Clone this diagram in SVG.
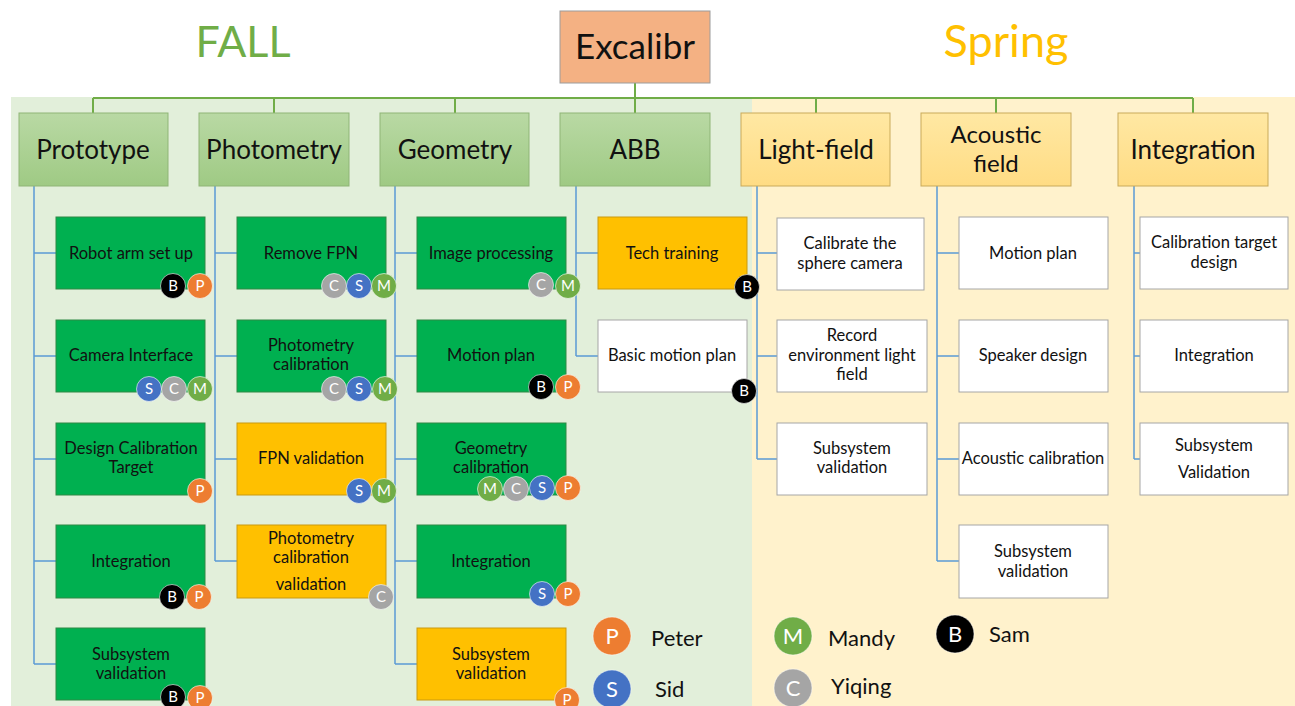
<svg xmlns="http://www.w3.org/2000/svg" width="1295" height="706" viewBox="0 0 1295 706">
  <defs>
    <linearGradient id="hdrFall" x1="0" y1="0" x2="0" y2="1">
      <stop offset="0" stop-color="#b9d9a4"/>
      <stop offset="1" stop-color="#9fca84"/>
    </linearGradient>
    <linearGradient id="hdrSpring" x1="0" y1="0" x2="0" y2="1">
      <stop offset="0" stop-color="#ffe8a3"/>
      <stop offset="1" stop-color="#ffdc84"/>
    </linearGradient>
  </defs>
  <style>
    text { font-family: Lato, "Liberation Sans", sans-serif; text-anchor: middle; fill: #111111; }
    .season { font-size: 43px; }
    .root { fill: #f4b183; stroke: #9c9c9c; stroke-width: 1; }
    .rootTxt { font-size: 35px; }
    .hdrF { fill: url(#hdrFall); stroke: #8fb577; stroke-width: 1; }
    .hdrS { fill: url(#hdrSpring); stroke: #c9aa5a; stroke-width: 1; }
    .hdrTxt { font-size: 26px; }
    .hdrTxt2 { font-size: 24px; }
    .tGreen { fill: #00b050; stroke: #2f8a45; stroke-width: 1; }
    .tOrange { fill: #ffc000; stroke: #c99a10; stroke-width: 1; }
    .tWhite { fill: #ffffff; stroke: #a6a6a6; stroke-width: 1; }
    .tTxt { font-size: 16.5px; }
    .trunk { fill: none; stroke: #70ad47; stroke-width: 2; }
    .branch { fill: none; stroke: #5b9bd5; stroke-width: 1.5; }
    .bd circle { stroke: #ffffff; stroke-opacity: 0.6; stroke-width: 1; }
    .bd text { fill: #ffffff; font-size: 15px; }
    .lg circle { stroke: #ffffff; stroke-opacity: 0.5; stroke-width: 1; }
    .lg text.ini { fill: #ffffff; font-size: 22px; }
    .lg text.name { font-size: 22px; text-anchor: start; }
    .cP { fill: #ed7d31; }
    .cS { fill: #4472c4; }
    .cC { fill: #a5a5a5; }
    .cM { fill: #70ad47; }
    .cB { fill: #000000; }
  </style>

  <!-- season panels -->
  <rect x="0" y="0" width="1295" height="706" fill="#ffffff"/>
  <rect x="11" y="97" width="741" height="609" fill="#e2efda"/>
  <rect x="752" y="97" width="543" height="609" fill="#fff2cc"/>

  <text class="season" x="243" y="57" style="fill:#70ad47">FALL</text>
  <text class="season" x="1006" y="57" style="fill:#ffc000;font-size:45px">Spring</text>

  <!-- connectors -->
  <g id="connectors">
    <path class="trunk" d="M635 83V98M93 98H1193M93 98V113M274 98V113M455 98V113M635 98V113M816 98V113M996 98V113M1193 98V113"/>
    <!-- Prototype -->
    <path class="branch" d="M34 186V664M34 253H56M34 356H56M34 459H56M34 561H56M34 664H56"/>
    <!-- Photometry -->
    <path class="branch" d="M215 186V561M215 253H237M215 356H237M215 459H237M215 561H237"/>
    <!-- Geometry -->
    <path class="branch" d="M395 186V664M395 253H417M395 356H417M395 459H417M395 561H417M395 664H417"/>
    <!-- ABB -->
    <path class="branch" d="M576 186V356M576 253H598M576 356H598"/>
    <!-- Light-field -->
    <path class="branch" d="M757 186V459M757 253H777M757 356H777M757 459H777"/>
    <!-- Acoustic field -->
    <path class="branch" d="M937 186V561M937 253H959M937 356H959M937 459H959M937 561H959"/>
    <!-- Integration -->
    <path class="branch" d="M1134 186V459M1134 253H1140M1134 356H1140M1134 459H1140"/>
  </g>

  <!-- root -->
  <g id="excalibr">
    <rect class="root" x="560" y="11" width="150" height="72"/>
    <text class="rootTxt" x="635" y="59">Excalibr</text>
  </g>

  <!-- headers -->
  <g id="hdr-prototype"><rect class="hdrF" x="19" y="113" width="149" height="73"/><text class="hdrTxt" x="93" y="159">Prototype</text></g>
  <g id="hdr-photometry"><rect class="hdrF" x="199" y="113" width="150" height="73"/><text class="hdrTxt" x="274" y="159">Photometry</text></g>
  <g id="hdr-geometry"><rect class="hdrF" x="380" y="113" width="149" height="73"/><text class="hdrTxt" x="455" y="159">Geometry</text></g>
  <g id="hdr-abb"><rect class="hdrF" x="560" y="113" width="150" height="73"/><text class="hdrTxt" x="635" y="159">ABB</text></g>
  <g id="hdr-lightfield"><rect class="hdrS" x="741" y="113" width="149" height="73"/><text class="hdrTxt" x="816" y="159">Light-field</text></g>
  <g id="hdr-acoustic"><rect class="hdrS" x="921" y="113" width="150" height="73"/><text class="hdrTxt2" x="996" y="143">Acoustic</text><text class="hdrTxt2" x="996" y="172">field</text></g>
  <g id="hdr-integration"><rect class="hdrS" x="1118" y="113" width="150" height="73"/><text class="hdrTxt" x="1193" y="159">Integration</text></g>

  <!-- Prototype tasks -->
  <g id="proto-robot"><rect class="tGreen" x="56" y="217" width="149" height="72"/><text class="tTxt" x="131" y="259">Robot arm set up</text>
    <g class="bd"><circle class="cB" cx="173" cy="286" r="12.5"/><text x="173" y="291">B</text><circle class="cP" cx="200" cy="286" r="12.5"/><text x="200" y="291">P</text></g></g>
  <g id="proto-camera"><rect class="tGreen" x="56" y="320" width="149" height="72"/><text class="tTxt" x="131" y="361">Camera Interface</text>
    <g class="bd"><circle class="cS" cx="149" cy="389" r="12.5"/><text x="149" y="394">S</text><circle class="cC" cx="174" cy="389" r="12.5"/><text x="174" y="394">C</text><circle class="cM" cx="200" cy="389" r="12.5"/><text x="200" y="394">M</text></g></g>
  <g id="proto-target"><rect class="tGreen" x="56" y="423" width="149" height="72"/><text class="tTxt" x="131" y="454">Design Calibration</text><text class="tTxt" x="131" y="473">Target</text>
    <g class="bd"><circle class="cP" cx="200" cy="491" r="12.5"/><text x="200" y="496">P</text></g></g>
  <g id="proto-integration"><rect class="tGreen" x="56" y="525" width="149" height="73"/><text class="tTxt" x="131" y="567">Integration</text>
    <g class="bd"><circle class="cB" cx="172" cy="597" r="12.5"/><text x="172" y="602">B</text><circle class="cP" cx="199" cy="597" r="12.5"/><text x="199" y="602">P</text></g></g>
  <g id="proto-validation"><rect class="tGreen" x="56" y="628" width="149" height="72"/><text class="tTxt" x="131" y="660">Subsystem</text><text class="tTxt" x="131" y="679">validation</text>
    <g class="bd"><circle class="cB" cx="173" cy="697" r="12.5"/><text x="173" y="702">B</text><circle class="cP" cx="200" cy="698" r="12.5"/><text x="200" y="703">P</text></g></g>

  <!-- Photometry tasks -->
  <g id="photo-fpn"><rect class="tGreen" x="237" y="217" width="149" height="72"/><text class="tTxt" x="311" y="259">Remove FPN</text>
    <g class="bd"><circle class="cC" cx="334" cy="286" r="12.5"/><text x="334" y="291">C</text><circle class="cS" cx="359" cy="286" r="12.5"/><text x="359" y="291">S</text><circle class="cM" cx="384" cy="286" r="12.5"/><text x="384" y="291">M</text></g></g>
  <g id="photo-calib"><rect class="tGreen" x="237" y="320" width="149" height="72"/><text class="tTxt" x="311" y="351">Photometry</text><text class="tTxt" x="311" y="370">calibration</text>
    <g class="bd"><circle class="cC" cx="334" cy="389" r="12.5"/><text x="334" y="394">C</text><circle class="cS" cx="359" cy="389" r="12.5"/><text x="359" y="394">S</text><circle class="cM" cx="385" cy="389" r="12.5"/><text x="385" y="394">M</text></g></g>
  <g id="photo-fpnval"><rect class="tOrange" x="237" y="423" width="149" height="72"/><text class="tTxt" x="311" y="464">FPN validation</text>
    <g class="bd"><circle class="cS" cx="359" cy="491" r="12.5"/><text x="359" y="496">S</text><circle class="cM" cx="384" cy="491" r="12.5"/><text x="384" y="496">M</text></g></g>
  <g id="photo-calibval"><rect class="tOrange" x="237" y="525" width="149" height="73"/><text class="tTxt" x="311" y="544">Photometry</text><text class="tTxt" x="311" y="563">calibration</text><text class="tTxt" x="311" y="590">validation</text>
    <g class="bd"><circle class="cC" cx="381" cy="597" r="12.5"/><text x="381" y="602">C</text></g></g>

  <!-- Geometry tasks -->
  <g id="geo-image"><rect class="tGreen" x="417" y="217" width="149" height="72"/><text class="tTxt" x="491" y="259">Image processing</text>
    <g class="bd"><circle class="cC" cx="541" cy="285" r="12.5"/><text x="541" y="290">C</text><circle class="cM" cx="568" cy="286" r="12.5"/><text x="568" y="291">M</text></g></g>
  <g id="geo-motion"><rect class="tGreen" x="417" y="320" width="149" height="72"/><text class="tTxt" x="491" y="361">Motion plan</text>
    <g class="bd"><circle class="cB" cx="541" cy="387" r="12.5"/><text x="541" y="392">B</text><circle class="cP" cx="568" cy="387" r="12.5"/><text x="568" y="392">P</text></g></g>
  <g id="geo-calib"><rect class="tGreen" x="417" y="423" width="149" height="72"/><text class="tTxt" x="491" y="454">Geometry</text><text class="tTxt" x="491" y="473">calibration</text>
    <g class="bd"><circle class="cM" cx="490" cy="489" r="12.5"/><text x="490" y="494">M</text><circle class="cC" cx="516" cy="489" r="12.5"/><text x="516" y="494">C</text><circle class="cS" cx="542" cy="488" r="12.5"/><text x="542" y="493">S</text><circle class="cP" cx="568" cy="488" r="12.5"/><text x="568" y="493">P</text></g></g>
  <g id="geo-integration"><rect class="tGreen" x="417" y="525" width="149" height="73"/><text class="tTxt" x="491" y="567">Integration</text>
    <g class="bd"><circle class="cS" cx="542" cy="594" r="12.5"/><text x="542" y="599">S</text><circle class="cP" cx="568" cy="594" r="12.5"/><text x="568" y="599">P</text></g></g>
  <g id="geo-validation"><rect class="tOrange" x="417" y="628" width="149" height="72"/><text class="tTxt" x="491" y="660">Subsystem</text><text class="tTxt" x="491" y="679">validation</text>
    <g class="bd"><circle class="cP" cx="567" cy="700" r="12.5"/><text x="567" y="705">P</text></g></g>

  <!-- ABB tasks -->
  <g id="abb-training"><rect class="tOrange" x="598" y="217" width="149" height="72"/><text class="tTxt" x="672" y="259">Tech training</text>
    <g class="bd"><circle class="cB" cx="747" cy="287" r="12.5"/><text x="747" y="292">B</text></g></g>
  <g id="abb-motion"><rect class="tWhite" x="598" y="320" width="149" height="72"/><text class="tTxt" x="672" y="361">Basic motion plan</text>
    <g class="bd"><circle class="cB" cx="744" cy="391" r="12.5"/><text x="744" y="396">B</text></g></g>

  <!-- Light-field tasks -->
  <g id="lf-sphere"><rect class="tWhite" x="777" y="218" width="147" height="72"/><text class="tTxt" x="850" y="249">Calibrate the</text><text class="tTxt" x="850" y="269">sphere camera</text></g>
  <g id="lf-record"><rect class="tWhite" x="777" y="320" width="150" height="72"/><text class="tTxt" x="852" y="341">Record</text><text class="tTxt" x="852" y="361">environment light</text><text class="tTxt" x="852" y="380">field</text></g>
  <g id="lf-validation"><rect class="tWhite" x="777" y="423" width="150" height="72"/><text class="tTxt" x="852" y="454">Subsystem</text><text class="tTxt" x="852" y="473">validation</text></g>

  <!-- Acoustic field tasks -->
  <g id="ac-motion"><rect class="tWhite" x="959" y="217" width="149" height="72"/><text class="tTxt" x="1033" y="259">Motion plan</text></g>
  <g id="ac-speaker"><rect class="tWhite" x="959" y="320" width="149" height="72"/><text class="tTxt" x="1033" y="361">Speaker design</text></g>
  <g id="ac-calib"><rect class="tWhite" x="959" y="423" width="149" height="72"/><text class="tTxt" x="1033" y="464">Acoustic calibration</text></g>
  <g id="ac-validation"><rect class="tWhite" x="959" y="525" width="149" height="73"/><text class="tTxt" x="1033" y="557">Subsystem</text><text class="tTxt" x="1033" y="577">validation</text></g>

  <!-- Integration tasks -->
  <g id="int-target"><rect class="tWhite" x="1140" y="217" width="148" height="72"/><text class="tTxt" x="1214" y="248">Calibration target</text><text class="tTxt" x="1214" y="268">design</text></g>
  <g id="int-integration"><rect class="tWhite" x="1140" y="320" width="148" height="72"/><text class="tTxt" x="1214" y="361">Integration</text></g>
  <g id="int-validation"><rect class="tWhite" x="1140" y="423" width="148" height="72"/><text class="tTxt" x="1214" y="451">Subsystem</text><text class="tTxt" x="1214" y="478">Validation</text></g>

  <!-- legend -->
  <g id="legend" class="lg">
    <circle class="cP" cx="612" cy="636" r="19"/><text class="ini" x="612" y="644">P</text><text class="name" x="651" y="646">Peter</text>
    <circle class="cS" cx="612" cy="689" r="19"/><text class="ini" x="612" y="697">S</text><text class="name" x="655" y="697">Sid</text>
    <circle class="cM" cx="793" cy="636" r="19"/><text class="ini" x="793" y="644">M</text><text class="name" x="828" y="646">Mandy</text>
    <circle class="cC" cx="793" cy="688" r="19"/><text class="ini" x="793" y="696">C</text><text class="name" x="831" y="694">Yiqing</text>
    <circle class="cB" cx="955" cy="634" r="19"/><text class="ini" x="955" y="642">B</text><text class="name" x="989" y="642">Sam</text>
  </g>
</svg>
